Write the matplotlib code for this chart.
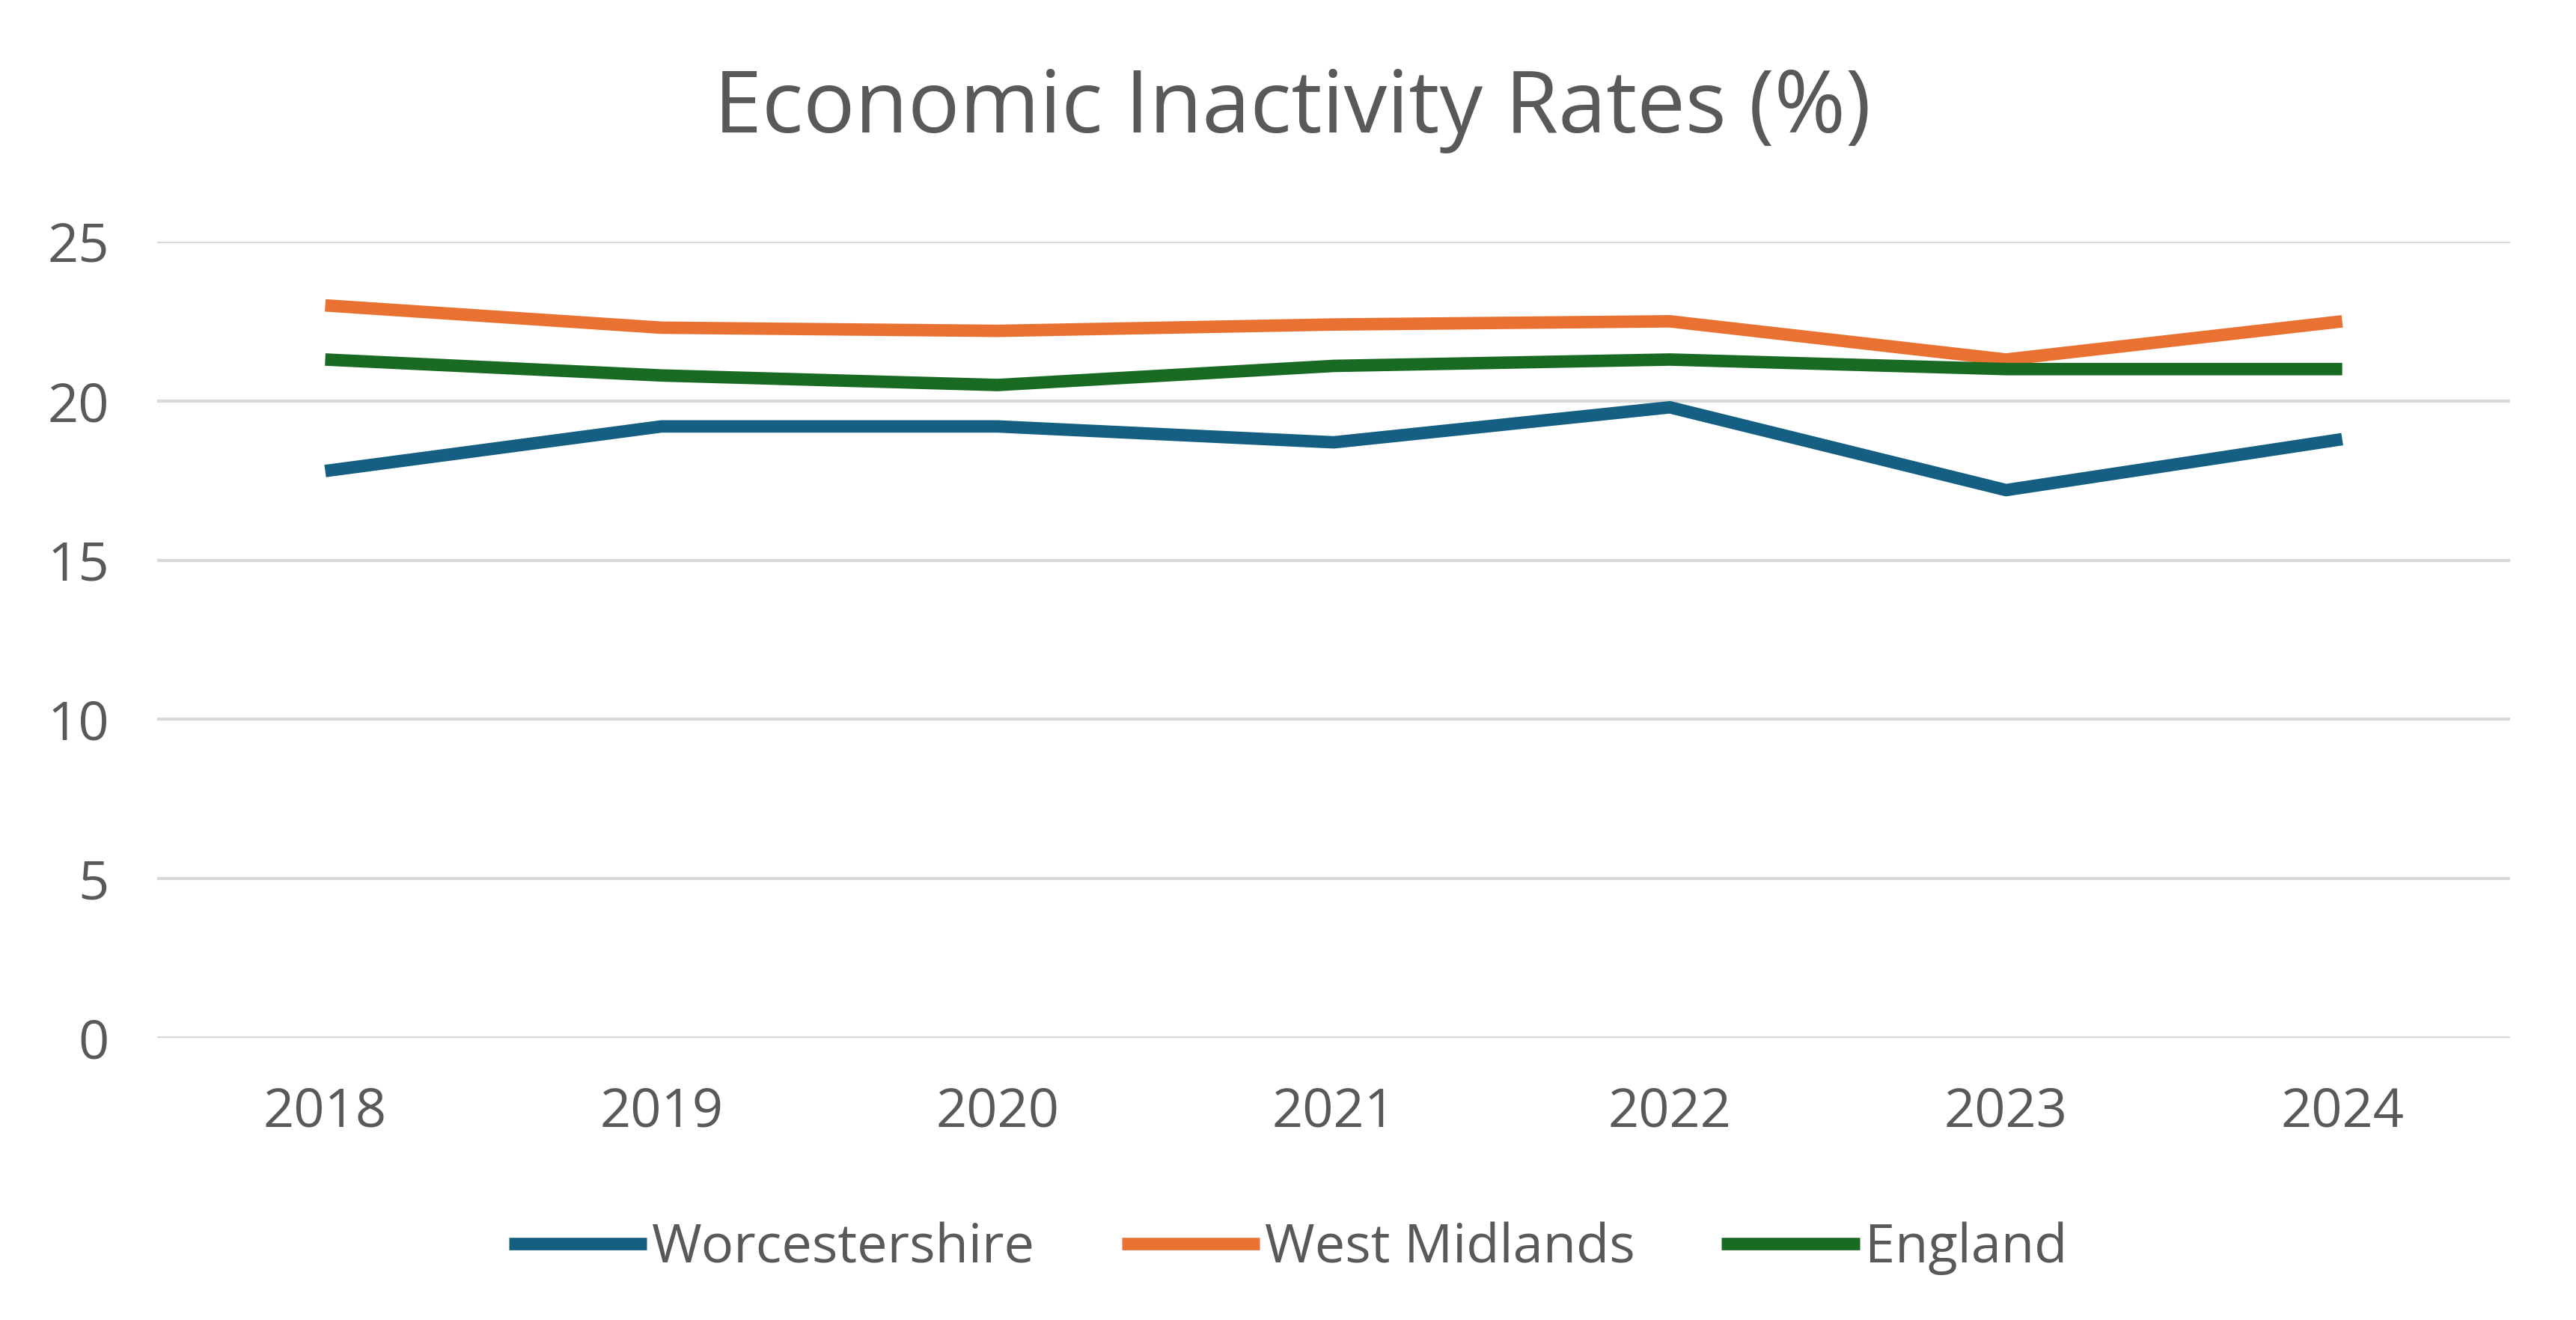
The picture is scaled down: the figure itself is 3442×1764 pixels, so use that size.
import matplotlib
matplotlib.use('Agg')
import matplotlib.pyplot as plt

plt.rcParams['font.family'] = ['Open Sans', 'DejaVu Sans']

years = ['2018', '2019', '2020', '2021', '2022', '2023', '2024']
worcestershire = [17.8, 19.2, 19.2, 18.7, 19.8, 17.2, 18.8]
west_midlands = [23.0, 22.3, 22.2, 22.4, 22.5, 21.3, 22.5]
england = [21.3, 20.8, 20.5, 21.1, 21.3, 21.0, 21.0]

series = [
    ('Worcestershire', worcestershire, '#156082'),
    ('West Midlands', west_midlands, '#E97132'),
    ('England', england, '#196B24'),
]

text_color = '#595959'

fig = plt.figure(figsize=(34.42, 17.64), dpi=100)
ax = fig.add_axes([0.061, 0.2137, 0.9135, 0.6032])

x = list(range(len(years)))
for name, vals, color in series:
    ax.plot(x, vals, color=color, linewidth=12, label=name,
            solid_capstyle='butt', solid_joinstyle='round')

ax.set_xlim(-0.5, len(years) - 0.5)
ax.set_ylim(0, 25)
ax.set_yticks([0, 5, 10, 15, 20, 25])
ax.set_xticks(x)
ax.set_xticklabels(years)

ax.grid(axis='y', color='#d9d9d9', linewidth=3)
ax.set_axisbelow(True)
for side in ['top', 'right', 'left', 'bottom']:
    ax.spines[side].set_visible(False)

ax.tick_params(axis='both', length=0, labelsize=52, colors=text_color)
ax.tick_params(axis='x', pad=46)
ax.tick_params(axis='y', pad=46)

# title placed by its baseline
fig.text(0.5017, 0.8997, 'Economic Inactivity Rates (%)', ha='center',
         va='baseline', fontsize=83, color=text_color)

leg = fig.legend(loc='center', bbox_to_anchor=(0.5, 0.054), ncol=3,
                 frameon=False, fontsize=52, handlelength=2.55,
                 handletextpad=0.1, columnspacing=1.6)
for t in leg.get_texts():
    t.set_color(text_color)

fig.savefig('out.png', dpi=100)
